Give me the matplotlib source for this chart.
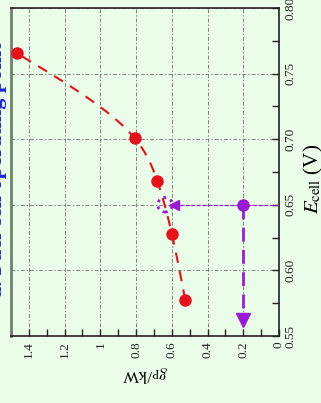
import numpy as np
import matplotlib
matplotlib.use("Agg")
import matplotlib.pyplot as plt
from matplotlib.ticker import MultipleLocator, FixedLocator, FixedFormatter

# data
g_power = [1.466, 0.808, 0.682, 0.600, 0.525]
e_cell = [0.7654, 0.7008, 0.6685, 0.628, 0.5777]
op_g = 0.2
op_e = 0.65
est_g = 0.638
h_arrow_end = 0.59
v_arrow_end = 0.556
x_ticks = [1.4, 1.2, 1.0, 0.8, 0.6, 0.4, 0.2, 0.0]
x_ticklabels = ["1.4", "1.2", "1", "0.8", "0.6", "0.4", "0.2", "0"]
y_ticks = [0.55, 0.60, 0.65, 0.70, 0.75, 0.80]
y_ticklabels = ["0.55", "0.60", "0.65", "0.70", "0.75", "0.80"]

bg = "#eafde8"
red = "#e8101a"
purple = "#9a1ad8"

plt.rcParams['font.family'] = ['Liberation Serif', 'DejaVu Serif']
plt.rcParams['mathtext.fontset'] = 'stix'

fig = plt.figure(figsize=(3.21, 4.03), dpi=100, facecolor=bg)
ax = fig.add_axes([11/321, 1-336/403, (279-11)/321, (336-8)/403])
ax.set_facecolor(bg)

ax.set_xlim(1.5, 0.0)
ax.set_ylim(0.55, 0.80)


def natural_spline(x, y, xs):
    x = np.asarray(x, float); y = np.asarray(y, float)
    n = len(x)
    h = np.diff(x)
    A = np.zeros((n, n)); b = np.zeros(n)
    A[0, 0] = 1; A[-1, -1] = 1
    for i in range(1, n-1):
        A[i, i-1] = h[i-1]; A[i, i] = 2*(h[i-1]+h[i]); A[i, i+1] = h[i]
        b[i] = 6*((y[i+1]-y[i])/h[i] - (y[i]-y[i-1])/h[i-1])
    M = np.linalg.solve(A, b)
    out = np.empty_like(xs)
    for k, xv in enumerate(xs):
        i = min(max(np.searchsorted(x, xv)-1, 0), n-2)
        t1 = x[i+1]-xv; t0 = xv-x[i]
        out[k] = (M[i]*t1**3 + M[i+1]*t0**3)/(6*h[i]) + (y[i]/h[i]-M[i]*h[i]/6)*t1 + (y[i+1]/h[i]-M[i+1]*h[i]/6)*t0
    return out

e_sorted = np.array(e_cell[::-1]); g_sorted = np.array(g_power[::-1])
es = np.linspace(e_sorted[0], e_sorted[-1], 200)
gs = natural_spline(e_sorted, g_sorted, es)

ax.grid(True, which='major', color='#808080', linestyle=(0, (4, 2, 1.5, 2)), linewidth=0.7)
ax.set_axisbelow(True)

ax.plot(gs, es, color=red, linestyle=(0, (5, 4)), linewidth=1.5, zorder=3)
ax.plot(g_power, e_cell, 'o', color=red, markersize=8, zorder=4)

# operating point construction
ax.plot([0.0, h_arrow_end], [op_e, op_e], color=purple, linestyle=(0, (3, 1.5)), linewidth=0.9, zorder=3)
ax.plot([h_arrow_end], [op_e], marker='<', color=purple, markersize=7, zorder=4)
ax.plot([op_g, op_g], [op_e, v_arrow_end + 0.006], color=purple, linestyle=(0, (5, 3)), linewidth=2.0, zorder=3)
ax.plot([op_g], [v_arrow_end + 0.006], marker='v', color=purple, markersize=10, zorder=4)
ax.plot([op_g], [op_e], 'o', color=purple, markersize=8, zorder=5)
ax.scatter([est_g], [op_e], s=110, facecolors='none', edgecolors=purple,
           linewidths=2.0, linestyles=(0, (1.0, 1.6)), zorder=6)

# axes styling
ax.yaxis.tick_right()
ax.yaxis.set_label_position('right')
ax.xaxis.set_major_locator(FixedLocator(x_ticks))
ax.xaxis.set_major_formatter(FixedFormatter(x_ticklabels))
ax.xaxis.set_minor_locator(MultipleLocator(0.1))
ax.yaxis.set_major_locator(FixedLocator(y_ticks))
ax.yaxis.set_major_formatter(FixedFormatter(y_ticklabels))
ax.yaxis.set_minor_locator(MultipleLocator(0.025))
ax.tick_params(axis='both', which='both', direction='in', colors='#222222', labelsize=9.5)
ax.tick_params(axis='both', which='major', length=5, width=1)
ax.tick_params(axis='both', which='minor', length=5, width=1)
ax.tick_params(axis='x', which='both', top=False, labelrotation=90, pad=4)
ax.tick_params(axis='y', which='both', left=False, labelrotation=90, pad=4)
for lbl in ax.get_xticklabels():
    lbl.set_va('top')
for lbl in ax.get_yticklabels():
    lbl.set_va('center')

for s in ['top', 'right', 'bottom']:
    ax.spines[s].set_color('#222222')
    ax.spines[s].set_linewidth(1.2)
ax.spines['left'].set_color('#6f826f')
ax.spines['left'].set_linewidth(2)

ax.set_xlabel(r'$g_{\rm P}$/kW', rotation=180, fontsize=12, labelpad=4)
ax.set_ylabel(r'$E_{\rm cell}$ (V)', rotation=90, fontsize=15, va='center', ha='center')
ax.yaxis.set_label_coords((313 - 11) / 268, 0.48)

fig.text(-0.0105, 0.578, 'a. Fuel cell operating point', color='#2222dd', fontsize=16,
         fontweight='bold', rotation=90, ha='center', va='center')

fig.savefig('out.png', dpi=100, facecolor=bg)
